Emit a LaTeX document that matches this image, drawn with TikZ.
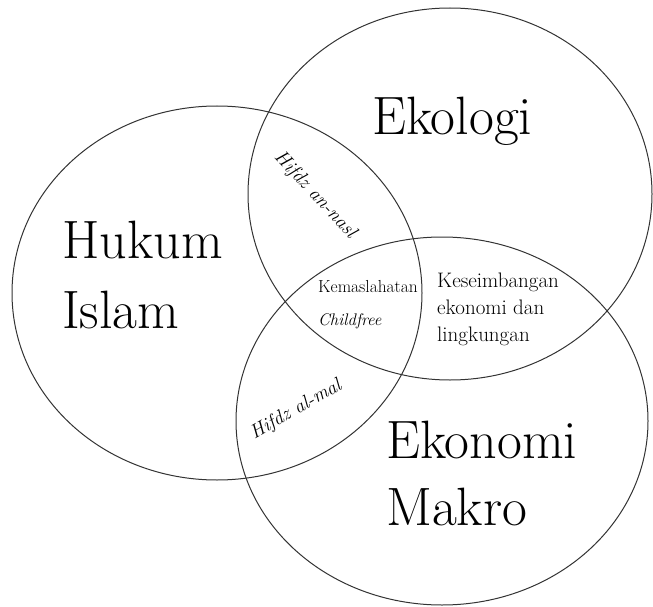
\documentclass[tikz,border=0pt]{standalone}
\usepackage{fontspec}
\begin{document}
\begin{tikzpicture}[x=1pt,y=-1pt,
  setline/.style={draw=black!80,line width=1pt},
  bigtxt/.style={inner sep=0pt,anchor=base west,font=\fontsize{54}{60}\selectfont},
  smalltxt/.style={inner sep=0pt,anchor=base west,font=\fontsize{17.4}{20}\selectfont},
  midtxt/.style={inner sep=0pt,anchor=base west,font=\fontsize{21}{24}\selectfont},
  rottxt/.style={inner sep=0pt,font=\fontsize{19.5}{22}\selectfont\itshape}]
\useasboundingbox (0,0) rectangle (653,607);
% sets
\draw[setline] (217,293) ellipse [x radius=205pt, y radius=187pt];
\draw[setline] (450,194) ellipse [x radius=202pt, y radius=186pt];
\draw[setline] (442,421) ellipse [x radius=206pt, y radius=184pt];
% set labels
\node[bigtxt] (eko) at (372,135) {Ekologi};
\node[bigtxt] (huk1) at (62,258) {Hukum};
\node[bigtxt] (huk2) at (62,328) {Islam};
\node[bigtxt] (ekm1) at (386,458) {Ekonomi};
\node[bigtxt] (ekm2) at (386,525) {Makro};
% intersections
\node[smalltxt] (kem) at (318,292) {Kemaslahatan};
\node[smalltxt,font=\fontsize{16.8}{20}\selectfont\itshape] (cf) at (318,325) {Childfree};
\node[midtxt] (kes1) at (437,287) {Keseimbangan};
\node[midtxt] (kes2) at (437,314) {ekonomi dan};
\node[midtxt] (kes3) at (437,341) {lingkungan};
\node[rottxt,rotate=-47] (nasl) at (315,195) {Hifdz an-nasl};
\node[rottxt,rotate=30] (mal) at (296,410) {Hifdz al-mal};
\end{tikzpicture}
\end{document}
